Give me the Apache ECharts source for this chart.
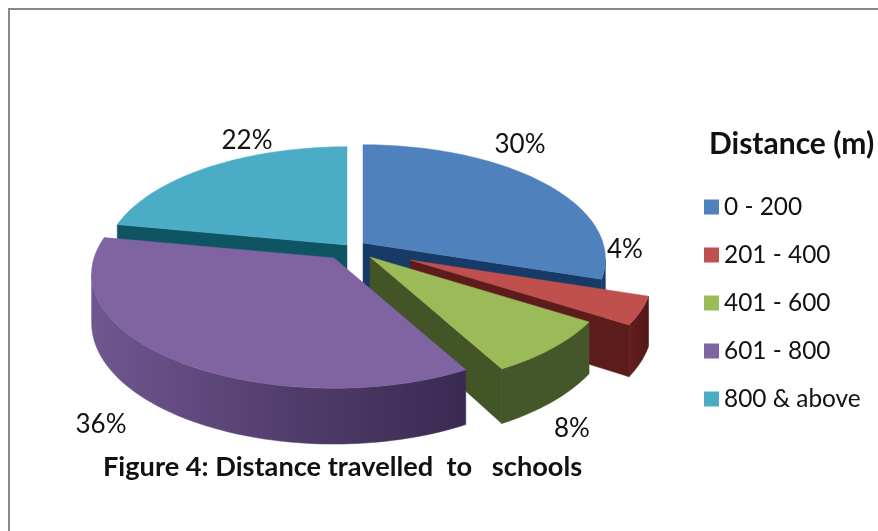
<!DOCTYPE html>
<html><head><meta charset="utf-8">
<style>html,body{margin:0;padding:0;background:#fff}#c{width:878px;height:531px}</style>
<script src="https://cdn.jsdelivr.net/npm/echarts@6/dist/echarts.min.js"></script>
</head><body><div id="c"></div>
<script>
const categories = ['0 - 200','201 - 400','401 - 600','601 - 800','800 & above'];
const shares = [30,4,8,36,22];
const topColors = ['#4f81bd','#c0504d','#9bbb59','#8064a2','#4bacc6'];

const FONT = 'Lato, Carlito, "Noto Sans", sans-serif';
const total = shares.reduce((a,b)=>a+b,0);
const RX=240, RY=112, PERSP=0.14, DEPTH=48;
const APEX=[[363,243],[410,260],[370,257],[334,258],[347,245]];
const LABEL_AT=[[520,145],[625,250],[572,429],[101,425],[247,141]];
const DRAW_Z=[2,3,4,5,1];
const SIDE=[
  ()=>'#1a3f6e', ()=>grad('#651f1f','#5a1a1a','#501818'), ()=>'#45562a',
  ()=>grad('#6f5790','#503c6a','#3a2a52'), ()=>'#125260'
];
const CUT=['#173a66','#5c1c1b','#435426','#3a2a52','#0f5463'];
function grad(a,m,b){return new echarts.graphic.LinearGradient(0,0,1,0,[{offset:0,color:a},{offset:.55,color:m},{offset:1,color:b}]);}
function pt(i,deg,r){
  const t=deg*Math.PI/180,u=Math.sin(t),v=-Math.cos(t),d=1-PERSP*v;
  return [APEX[i][0]+r*RX*u/d, APEX[i][1]+r*RY*v/d];
}
function down(p,deg){const v=-Math.cos(deg*Math.PI/180);return [p[0],p[1]+DEPTH/(1-PERSP*v)];}
function arc(i,a,b){const n=Math.max(2,Math.ceil((b-a)/1.5)),o=[];for(let k=0;k<=n;k++)o.push(pt(i,a+(b-a)*k/n,1));return o;}
function angles(i){let s=0;for(let k=0;k<i;k++)s+=shares[k];return [s/total*360,(s+shares[i])/total*360];}
const WALL_A=98, WALL_B=262;

function renderSlice(params,api){
  const i=params.seriesIndex,[a,b]=angles(i),kids=[];
  const apex=APEX[i];
  const poly=(points,fill)=>kids.push({type:'polygon',shape:{points},style:{fill,stroke:fill,lineWidth:.5}});
  const ps=pt(i,a,1),pe=pt(i,b,1),ad=[apex[0],apex[1]+DEPTH];
  if(ps[0]<apex[0]-1) poly([apex,ps,down(ps,a),ad],CUT[i]);
  if(pe[0]>apex[0]+1) poly([apex,pe,down(pe,b),ad],CUT[i]);
  const wa=Math.max(a,WALL_A),wb=Math.min(b,WALL_B);
  if(wb>wa){
    const top=arc(i,wa,wb);
    const bot=top.map((p,k)=>down(p,wa+(wb-wa)*k/(top.length-1))).reverse();
    poly(top.concat(bot),SIDE[i]());
  }
  poly([apex].concat(arc(i,a,b)),topColors[i]);
  kids.push({type:'text',x:LABEL_AT[i][0],y:LABEL_AT[i][1],z2:50,
    style:{text:api.value(0)+'%',font:'26px '+FONT,fill:'#111',align:'center',verticalAlign:'middle'}});
  return {type:'group',children:kids};
}

const chart=echarts.init(document.getElementById('c'),null,{renderer:'canvas'});
chart.setOption({
  animation:false,
  backgroundColor:'#fff',
  color:topColors,
  title:[
    {text:'Distance (m)',left:709,top:129,textStyle:{fontFamily:FONT,fontWeight:'bold',fontSize:30,color:'#111'},padding:0},
    {text:'Figure 4: Distance travelled  to   schools',left:103,top:454,textStyle:{fontFamily:FONT,fontWeight:'bold',fontSize:27.2,color:'#111'},padding:0}
  ],
  legend:{orient:'vertical',left:704,top:195,padding:0,itemWidth:15,itemHeight:15,itemGap:24,icon:'rect',selectedMode:false,
    data:categories,textStyle:{fontFamily:FONT,fontSize:24.4,color:'#111'}},
  graphic:[
    {type:'line',silent:true,z:-1,shape:{x1:9,y1:8,x2:9,y2:531},style:{stroke:'#888',lineWidth:2}},
    {type:'line',silent:true,z:-1,shape:{x1:8,y1:9,x2:878,y2:9},style:{stroke:'#888',lineWidth:2}}
  ],
  series:categories.map((name,i)=>({
    type:'custom',name,coordinateSystem:'none',silent:true,z:DRAW_Z[i]+1,
    data:[[shares[i]]],renderItem:renderSlice
  }))
});
</script></body></html>
